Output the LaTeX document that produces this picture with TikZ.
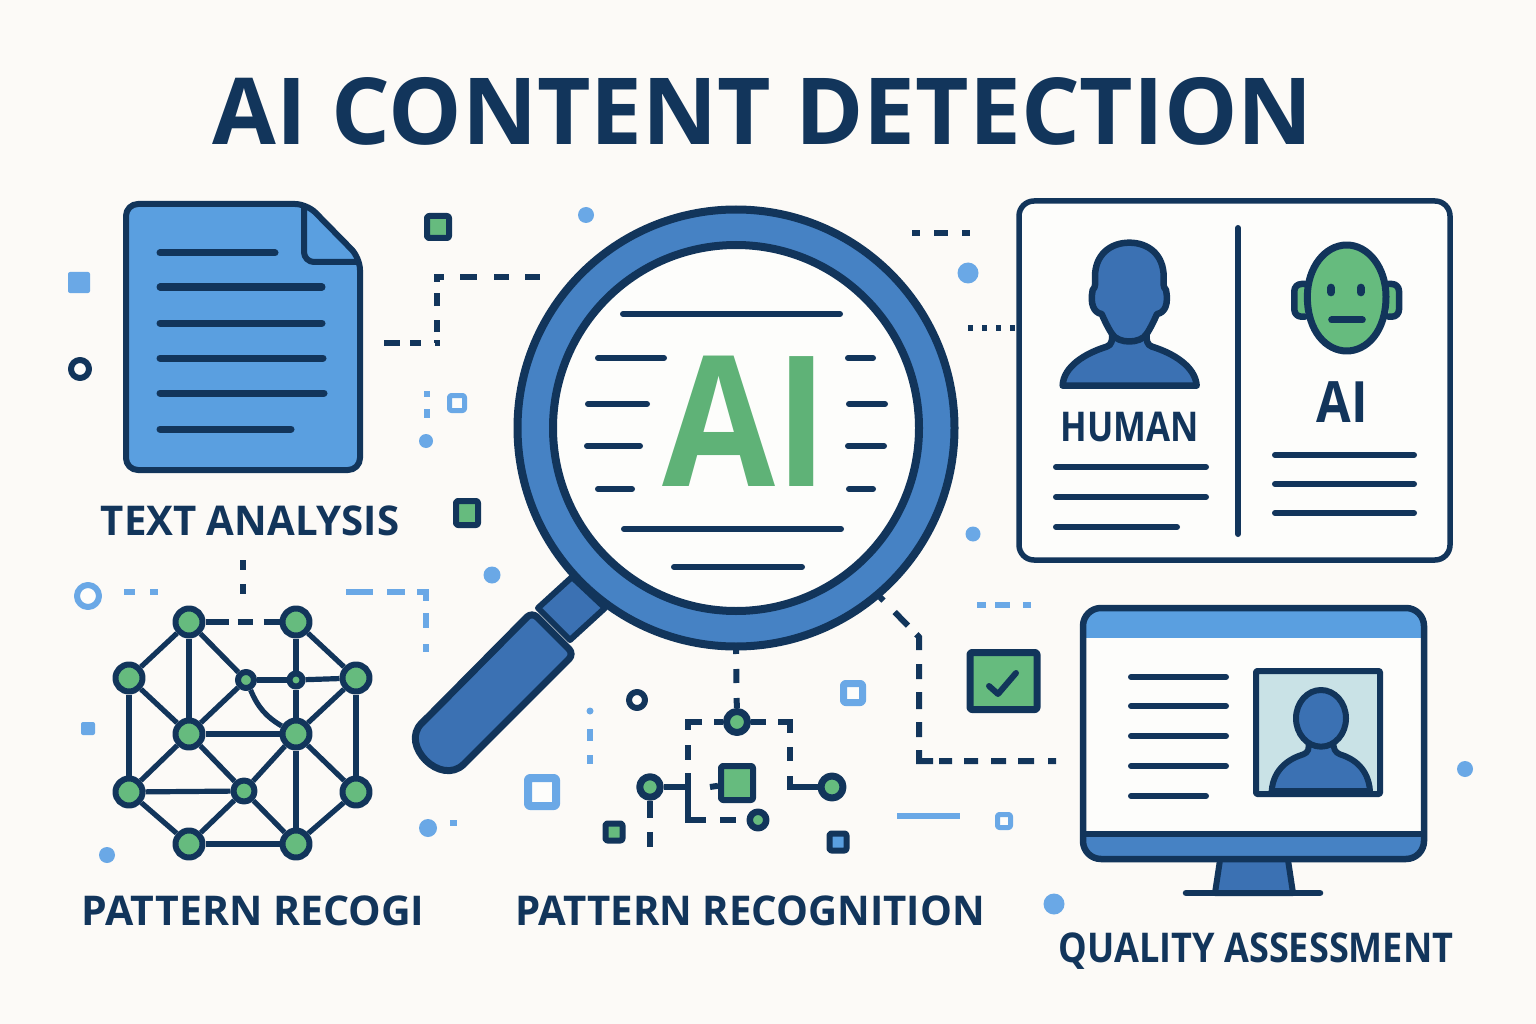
\documentclass[tikz,border=0pt]{standalone}
\usepackage{fontspec}
\setmainfont{Open Sans}
\definecolor{bgcol}{HTML}{FCFAF7}
\definecolor{navycol}{HTML}{12355B}
\definecolor{skycol}{HTML}{5A9FE0}
\definecolor{ringcol}{HTML}{4682C4}
\definecolor{deepcol}{HTML}{3B71B3}
\definecolor{leafcol}{HTML}{66BB7E}
\definecolor{lenscol}{HTML}{5FB277}
\definecolor{whitecol}{HTML}{FDFDFB}
\definecolor{photocol}{HTML}{C9E2E6}
\definecolor{dotcol}{HTML}{6AA8E6}
\tikzset{
  inkline/.style={draw=navycol,line width=6pt},
  dashlink/.style={draw=navycol,line width=6pt,line cap=butt,line join=miter},
  skylink/.style={draw=dotcol,line width=6pt,line cap=butt,line join=miter},
  graphedge/.style={draw=navycol,line width=5.2pt,line cap=butt},
  bignode/.style={circle,draw=navycol,fill=leafcol,line width=6pt,inner sep=0pt,minimum size=27pt},
  greenbox/.style={rectangle,draw=navycol,fill=leafcol,line width=6pt,rounded corners=2pt,inner sep=0pt},
  bluebox/.style={rectangle,draw=navycol,fill=skycol,line width=6pt,rounded corners=2pt,inner sep=0pt},
  hollowbox/.style={rectangle,draw=dotcol,fill=whitecol,line width=6pt,rounded corners=2pt,inner sep=0pt},
  caption/.style={text=navycol,inner sep=0pt,anchor=base,font=\fontsize{41}{41}\selectfont\bfseries}
}
\begin{document}
\begin{tikzpicture}[line cap=round,line join=round,x=1pt,y=-1pt]
\fill [bgcol] (0,0) rectangle (1536,1024);
\useasboundingbox (0,0) rectangle (1536,1024);
\node (titlelabel) [caption,font=\fontsize{92.5}{92.5}\selectfont\bfseries] at (763,145) {AI CONTENT DETECTION};
% document
\draw [fill=skycol,line width=6pt,draw=navycol,rounded corners=12pt] (126,204) -- (307,204) -- (360,258) -- (360,470) -- (126,470) -- cycle;
\draw [inkline,rounded corners=10pt] (304,207) -- (304,262) -- (358,262);
\draw [inkline,line width=7pt] (160,253) -- (275,253);
\draw [inkline,line width=7pt] (160,287) -- (322,287);
\draw [inkline,line width=7pt] (160,323) -- (322,323);
\draw [inkline,line width=7pt] (160,358) -- (323,358);
\draw [inkline,line width=7pt] (160,393) -- (324,393);
\draw [inkline,line width=7pt] (160,429) -- (291,429);
\node (textlabel) [caption] at (250,535) {\scalebox{.98}[1]{TEXT ANALYSIS}};
% magnifier
\draw [fill=deepcol,draw=navycol,line width=6pt] (572,577) -- (538,608) -- (570,640) -- (605,608) -- cycle;
\draw [fill=deepcol,draw=navycol,line width=7pt,rounded corners=7pt] (574,654) -- (532,612) -- (427,718) .. controls (399,745) and (441,787) .. (469,759) -- cycle;
\draw [fill=ringcol,draw=navycol,line width=8pt] (736,428) circle (218.5);
\draw [fill=whitecol,draw=navycol,line width=8pt] (736,428) circle (183);
\draw [inkline] (623,314) -- (840,314);
\draw [inkline] (598,358) -- (664,358);
\draw [inkline] (848,358) -- (873,358);
\draw [inkline] (588,404) -- (647,404);
\draw [inkline] (849,404) -- (885,404);
\draw [inkline] (587,446) -- (640,446);
\draw [inkline] (848,446) -- (884,446);
\draw [inkline] (598,489) -- (632,489);
\draw [inkline] (849,489) -- (873,489);
\draw [inkline] (624,529) -- (841,529);
\draw [inkline] (674,567) -- (802,567);
\node (lenslabel) [caption,text=lenscol,font=\fontsize{182}{182}\selectfont\bfseries] at (745,486) {\scalebox{.9}[1]{A}\scalebox{.87}[1]{I}};
% human versus ai panel
\draw [fill=whitecol,draw=navycol,line width=5.5pt,rounded corners=15pt] (1019,201) rectangle (1450,560);
\draw [inkline] (1238,228) -- (1238,534);
\begin{scope}[shift={(1010,190)},scale=1/3]
\draw [fill=deepcol,draw=navycol,line width=6.5pt] (158,587) .. controls (160,530) and (225,490) .. (290,470)
  .. controls (305,465) and (308,450) .. (306,432) .. controls (295,415) and (285,395) .. (275,372)
  .. controls (250,368) and (240,340) .. (248,300) .. controls (258,290) and (255,280) .. (255,260)
  .. controls (255,195) and (300,158) .. (358,158) .. controls (416,158) and (461,195) .. (461,260)
  .. controls (461,280) and (458,290) .. (468,300) .. controls (476,340) and (466,368) .. (441,372)
  .. controls (431,395) and (421,415) .. (410,432) .. controls (408,450) and (411,465) .. (426,470)
  .. controls (491,490) and (556,530) .. (560,587) -- cycle;
\draw [inkline,line width=6.5pt] (306,432) .. controls (325,462) and (391,462) .. (410,432);
\draw [fill=leafcol,draw=navycol,line width=6.5pt,rounded corners=7pt] (885,282) -- (853,282) -- (853,380) -- (885,380);
\draw [fill=leafcol,draw=navycol,line width=6.5pt,rounded corners=7pt] (1135,282) -- (1167,282) -- (1167,380) -- (1135,380);
\draw [fill=leafcol,draw=navycol,line width=7pt] (892,320) .. controls (892,233) and (945,165) .. (1010,165) .. controls (1075,165) and (1128,233) .. (1128,320) .. controls (1128,425) and (1070,483) .. (1010,483) .. controls (950,483) and (892,425) .. (892,320) -- cycle;
\draw [inkline,line width=8pt] (963,293) -- (963,307);
\draw [inkline,line width=8pt] (1052,293) -- (1052,307);
\draw [inkline,line width=7pt] (965,390) -- (1057,390);
\end{scope}
\node (humanlabel) [caption] at (1130,441) {\scalebox{.85}[1]{HUMAN}};
\node (ailabel) [caption,font=\fontsize{57}{57}\selectfont\bfseries] at (1342,422) {\scalebox{.88}[1]{AI}};
\draw [inkline] (1056,467) -- (1206,467);
\draw [inkline] (1056,497) -- (1206,497);
\draw [inkline] (1056,527) -- (1177,527);
\draw [inkline] (1275,455) -- (1414,455);
\draw [inkline] (1275,484) -- (1414,484);
\draw [inkline] (1275,513) -- (1414,513);
% monitor
\draw [fill=deepcol,draw=navycol,line width=6pt] (1220,860) -- (1215,893) -- (1293,893) -- (1288,860);
\draw [inkline,line width=6.5pt] (1186,893) -- (1320,893);
\draw [fill=whitecol,draw=none,rounded corners=18pt] (1083,608) rectangle (1424,859);
\fill [skycol,rounded corners=14pt] (1083,608) -- (1424,608) -- (1424,660) -- (1083,660) -- cycle;
\fill [whitecol] (1083,638) rectangle (1424,680);
\fill [ringcol,rounded corners=14pt] (1083,815) -- (1424,815) -- (1424,859) -- (1083,859) -- cycle;
\fill [whitecol] (1083,815) rectangle (1424,834);
\draw [draw=navycol,line width=6.5pt,rounded corners=18pt] (1083,608) rectangle (1424,859);
\draw [inkline,line cap=butt] (1083,834) -- (1424,834);
\draw [inkline] (1131,677) -- (1226,677);
\draw [inkline] (1131,706) -- (1226,706);
\draw [inkline] (1131,736) -- (1226,736);
\draw [inkline] (1131,766) -- (1226,766);
\draw [inkline] (1131,796) -- (1206,796);
\draw [fill=photocol,draw=navycol,line width=6pt,rounded corners=1pt] (1256,671) rectangle (1380,794);
\begin{scope}[shift={(1070,595)},scale=1/3]
\draw [fill=deepcol,draw=navycol,line width=6pt] (605,588) .. controls (610,520) and (660,490) .. (700,478)
  .. controls (715,472) and (718,462) .. (715,440) -- (790,440) .. controls (790,462) and (795,472) .. (810,478)
  .. controls (850,490) and (895,520) .. (900,588) -- cycle;
\draw [fill=deepcol,draw=navycol,line width=6pt] (753,370) ellipse (75 and 85);
\end{scope}
\node (qualitylabel) [caption] at (1256,962) {\scalebox{.88}[1]{QUALITY ASSESSMENT}};
% network
\node (neta) [bignode] at (189,622) {};
\node (netb) [bignode] at (296,622) {};
\node (netc) [bignode] at (129,678) {};
\node (netd) [bignode] at (356,678) {};
\node (nete) [bignode,minimum size=16pt] at (246,680) {};
\node (netf) [bignode,minimum size=13pt] at (296,680) {};
\node (netg) [bignode] at (189,734) {};
\node (neth) [bignode] at (296,734) {};
\node (neti) [bignode] at (129,792) {};
\node (netj) [bignode,minimum size=21pt] at (244,791) {};
\node (netk) [bignode] at (356,792) {};
\node (netl) [bignode] at (189,844) {};
\node (netm) [bignode] at (296,844) {};
\draw [graphedge] (neta) -- (netc);
\draw [graphedge] (neta) -- (netg);
\draw [graphedge] (neta) -- (nete);
\draw [graphedge] (netb) -- (netf);
\draw [graphedge] (netb) -- (netd);
\draw [graphedge] (netc) -- (netg);
\draw [graphedge] (netc) -- (neti);
\draw [graphedge] (nete) -- (netg);
\draw [graphedge] (nete) -- (netf);
\draw [graphedge] (netf) -- (netd);
\draw [graphedge] (netf) -- (neth);
\draw [graphedge] (netd) -- (neth);
\draw [graphedge] (netd) -- (netk);
\draw [graphedge] (nete) to [bend right=18] (neth);
\draw [graphedge] (netg) -- (neth);
\draw [graphedge] (netg) -- (neti);
\draw [graphedge] (netg) -- (netj);
\draw [graphedge] (neth) -- (netj);
\draw [graphedge] (neth) -- (netm);
\draw [graphedge] (neth) -- (netk);
\draw [graphedge] (neti) -- (netj);
\draw [graphedge] (neti) -- (netl);
\draw [graphedge] (netj) -- (netl);
\draw [graphedge] (netj) -- (netm);
\draw [graphedge] (netk) -- (netm);
\draw [graphedge] (netl) -- (netm);
\draw [dashlink,dash pattern=on 23pt off 9pt on 15pt off 11pt on 20pt] (neta) -- (netb);
\node (patternlabel) [caption] at (253,925) {PATTERN RECOGI};
% circuit
\node (cirtop) [bignode,line width=7pt,minimum size=21pt] at (737,722) {};
\node (cirleft) [bignode,line width=7pt,minimum size=20.5pt] at (650,787) {};
\node (cirright) [bignode,line width=7pt,minimum size=22pt] at (832,787) {};
\node (cirlow) [bignode,line width=6.5pt,minimum size=16.5pt] at (758,820) {};
\node (cirbox) [greenbox,minimum width=32pt,minimum height=34pt] at (737,783) {};
\coordinate (lensfoot) at (736,649);
\coordinate (topleft) at (688,760);
\coordinate (topright) at (790,761);
\coordinate (lowleft) at (688,773);
\coordinate (lowright) at (790,776);
\coordinate (leftfoot) at (650,847);
\coordinate (leftjoin) at (688,787);
\coordinate (stubend) at (710,787);
\draw [dashlink,dash pattern=on 5pt off 15pt on 14pt off 15pt on 30pt] (lensfoot) -- (cirtop);
\draw [dashlink,dash pattern=on 9pt off 12pt on 22pt off 15pt on 15pt] (cirtop) -| (topleft);
\draw [dashlink,dash pattern=on 15pt off 12pt on 23pt off 14pt on 14pt] (cirtop) -| (topright);
\draw [dashlink,dash pattern=on 65pt off 14pt on 16pt off 30pt] (lowleft) |- (cirlow);
\draw [dashlink] (lowright) |- (cirright);
\draw [dashlink] (cirleft) -- (leftjoin);
\draw [dashlink,dash pattern=on 17pt off 14pt on 15pt] (cirleft) -- (leftfoot);
\draw [dashlink] (stubend) -- (cirbox);
\coordinate (docstart) at (384,343);
\coordinate (docbend) at (437,343);
\coordinate (docup) at (437,277);
\coordinate (docend) at (540,277);
\draw [dashlink,dash pattern=on 16pt off 10pt on 11pt off 14pt on 5pt off 8pt on 12pt off 14pt on 13pt off 11pt on 12pt off 16pt on 17pt off 17pt on 15pt off 16pt on 15pt] (docstart) -- (docbend) -- (docup) -- (docend);
\coordinate (toprighta) at (912,233);
\coordinate (toprightb) at (970,233);
\draw [dashlink,dash pattern=on 8pt off 14pt on 14pt off 14pt on 8pt] (toprighta) -- (toprightb);
\coordinate (panela) at (968,328);
\coordinate (panelb) at (1016,328);
\draw [dashlink,dash pattern=on 5pt off 9pt] (panela) -- (panelb);
\coordinate (netupa) at (243,560);
\coordinate (netupb) at (243,597);
\draw [dashlink,dash pattern=on 10pt off 14pt] (netupa) -- (netupb);
\coordinate (ringfoot) at (880,597);
\coordinate (ringbend) at (919,637);
\coordinate (monbend) at (919,761);
\coordinate (monend) at (1056,761);
\draw [dashlink,dash pattern=on 5pt off 16pt on 19pt off 12pt on 17pt off 14pt on 15pt off 13pt on 17pt off 13pt on 15pt off 13pt on 25pt off 6pt on 13pt off 12pt on 14pt off 13pt on 15pt off 12pt on 16pt off 14pt on 14pt] (ringfoot) -- (ringbend) -- (monbend) -- (monend);
% light dashes
\draw [skylink,dash pattern=on 11pt off 15pt on 8pt] (124,592) -- (158,592);
\draw [skylink,dash pattern=on 27pt off 14pt on 18pt off 12pt on 18pt off 12pt on 15pt off 16pt on 8pt] (346,592) -- (426,592) -- (426,652);
\draw [skylink,dash pattern=on 12pt off 14pt on 9pt] (590,729) -- (590,764);
\draw [skylink] (897,816) -- (960,816);
\draw [skylink,dash pattern=on 9pt off 9pt on 15pt off 13pt on 8pt] (977,605) -- (1031,605);
\draw [skylink,dash pattern=on 6pt off 12pt on 9pt] (427,391) -- (427,419);
% small marks
\node (marka) [greenbox,minimum size=22pt] at (438,227) {};
\node (markb) [greenbox,minimum width=22pt,minimum height=24pt] at (467,513) {};
\node (markc) [greenbox,minimum size=17pt] at (614,832) {};
\node (markd) [bluebox,minimum size=17pt] at (838,842) {};
\node (marke) [hollowbox,line width=5pt,minimum size=15pt] at (457,403) {};
\node (markf) [hollowbox,line width=8pt,minimum size=28pt] at (542,792) {};
\node (markg) [hollowbox,line width=7pt,minimum size=19pt] at (853,693) {};
\node (markh) [hollowbox,line width=5pt,minimum size=13pt] at (1004,821) {};
\node (marki) [greenbox,line width=7pt,minimum width=67pt,minimum height=57pt] at (1003.5,681) {};
\coordinate (ticka) at (989,686);
\coordinate (tickb) at (998,694);
\coordinate (tickc) at (1016,673);
\draw [inkline] (ticka) -- (tickb) -- (tickc);
\fill [dotcol,rounded corners=2pt] (68,272) rectangle (90,293);
\fill [dotcol,rounded corners=2pt] (81,722) rectangle (95,735);
\fill [dotcol] (450,820) rectangle (457,826);
\draw [fill=whitecol,draw=navycol,line width=6pt] (80,369) circle (9);
\draw [fill=whitecol,draw=navycol,line width=6pt] (637,700) circle (8);
\draw [fill=whitecol,draw=dotcol,line width=6pt] (88,596) circle (11);
\fill [dotcol] (586,215) circle (8);
\fill [dotcol] (968,273) circle (10.5);
\fill [dotcol] (426,441) circle (7);
\fill [dotcol] (492,575) circle (8.5);
\fill [dotcol] (973,534) circle (7.5);
\fill [dotcol] (428,828) circle (9);
\fill [dotcol] (107,855) circle (8);
\fill [dotcol] (1054,904) circle (10.5);
\fill [dotcol] (1465,769) circle (8);
\fill [dotcol] (590,711) circle (3.5);
\node (recoglabel) [caption] at (750,925) {\scalebox{.98}[1]{PATTERN RECOGNITION}};
\end{tikzpicture}
\end{document}
